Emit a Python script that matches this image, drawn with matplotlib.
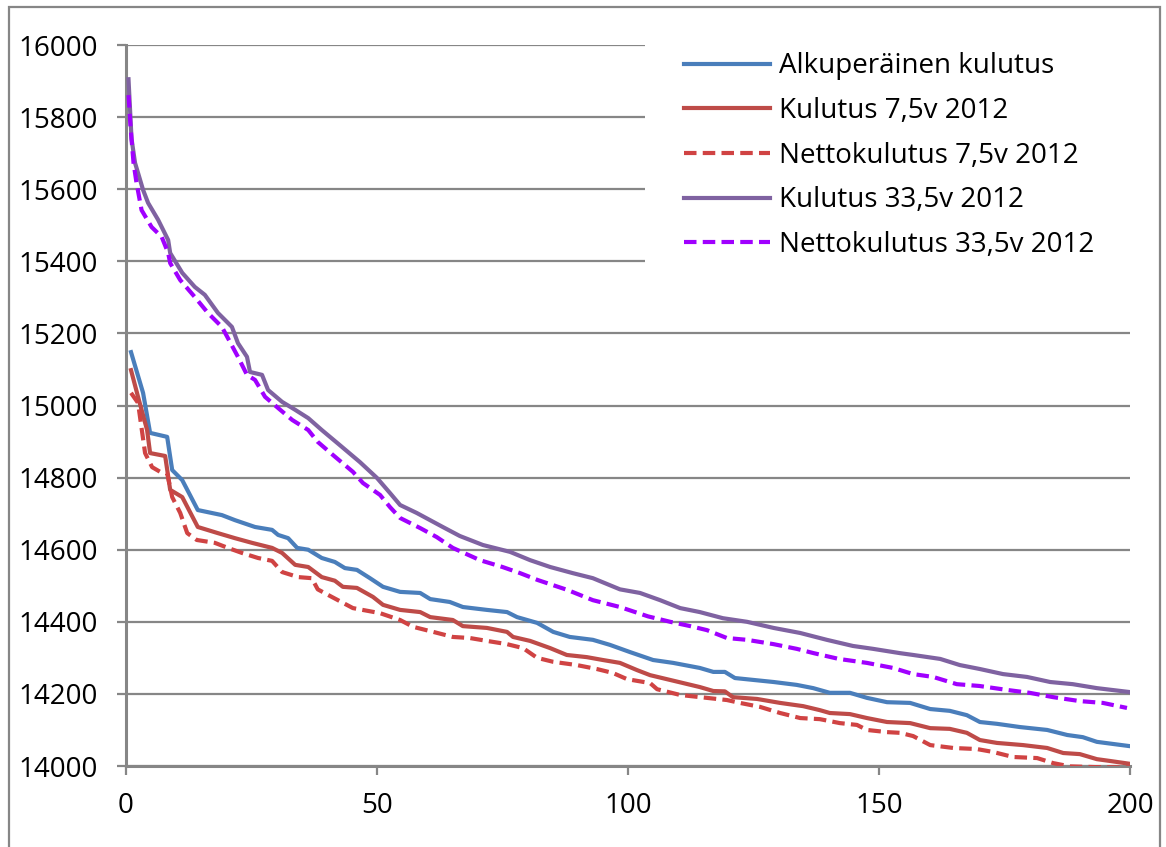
import matplotlib
matplotlib.use("Agg")
import matplotlib.pyplot as plt
from matplotlib.patches import Rectangle

# --- data ---
x_alku = [1, 3.4, 4.8, 8.2, 9.2, 11.2, 14.3, 19.1, 21.7, 25.7, 29.1, 30.3, 32.3, 34.1, 36.3, 39,
          41.6, 43.6, 46, 48.6, 51.2, 54.6, 58.6, 60.6, 64.5, 67.1, 71.9, 75.9, 77.9, 81.9, 85.1,
          88.4, 93, 96.4, 100.4, 105, 109, 114.3, 117, 119.3, 121.3, 129, 133.6, 136.9, 140.2,
          144.2, 147.6, 151.6, 156.2, 160.2, 164.1, 167.5, 170.1, 173.5, 178.1, 183.5, 187.5,
          190.6, 193.4, 200]
y_alku = [15148, 15035, 14924, 14913, 14821, 14793, 14710, 14696, 14682, 14663, 14655, 14641,
          14632, 14605, 14600, 14577, 14566, 14549, 14544, 14521, 14497, 14483, 14480, 14463,
          14455, 14441, 14433, 14427, 14413, 14397, 14372, 14358, 14350, 14336, 14316, 14294,
          14286, 14272, 14261, 14261, 14244, 14233, 14225, 14216, 14203, 14203, 14189, 14177,
          14175, 14158, 14153, 14141, 14122, 14117, 14108, 14100, 14086, 14080, 14067, 14055]

x_kul75 = [1, 2.4, 4.2, 4.8, 7.8, 8.8, 11.2, 14.3, 18.3, 21.7, 25.1, 29.1, 31.1, 33.7, 36.3, 39,
           41.6, 43.2, 46, 49.2, 51.2, 54.6, 58.6, 60.6, 65.1, 67.1, 71.9, 75.9, 77.1, 80.5, 84.5,
           87.8, 91.8, 95, 98.4, 101.8, 104.4, 111, 114.3, 117, 119.3, 120.9, 125.7, 130.3, 134.9,
           138.2, 140.2, 144.2, 147.6, 151.6, 156.2, 160.2, 164.1, 167.5, 170.1, 173.5, 178.7,
           183.5, 186.7, 190, 193.4, 196, 200]
y_kul75 = [15098, 15024, 14932, 14868, 14860, 14766, 14746, 14663, 14646, 14632, 14619, 14605,
           14591, 14558, 14552, 14524, 14514, 14497, 14494, 14469, 14447, 14433, 14427, 14413,
           14405, 14388, 14383, 14372, 14358, 14347, 14327, 14308, 14302, 14294, 14286, 14266,
           14252, 14230, 14219, 14208, 14207, 14191, 14186, 14175, 14166, 14155, 14147, 14144,
           14133, 14122, 14119, 14105, 14103, 14092, 14072, 14064, 14058, 14050, 14036, 14033,
           14019, 14014, 14006]

x_netto75 = [1, 2.4, 3.8, 5.2, 6.8, 8.2, 9.2, 10.8, 12.2, 14.1, 17.7, 20.3, 23.1, 26.3, 29.1, 31.1,
             34.3, 37, 38.2, 41, 45.2, 50.6, 54.6, 57.2, 61.2, 65.1, 68.5, 71.9, 75.9, 79.1, 81.9,
             85.1, 89.8, 93.8, 97, 99.8, 104.4, 105.8, 110.4, 115.7, 119.7, 122.3, 126.3, 130.3,
             134.3, 138.2, 142.2, 145.6, 147.6, 151.6, 154.2, 156.8, 160.2, 164.8, 169.5, 172.7,
             176.7, 181.5, 184.7, 188, 193, 200]
y_netto75 = [15035, 15007, 14868, 14829, 14816, 14812, 14746, 14702, 14646, 14627, 14619, 14605,
             14591, 14577, 14569, 14538, 14524, 14521, 14490, 14469, 14438, 14424, 14405, 14386,
             14372, 14358, 14355, 14347, 14338, 14327, 14300, 14289, 14280, 14269, 14258, 14241,
             14230, 14213, 14197, 14189, 14183, 14175, 14164, 14147, 14133, 14130, 14119, 14114,
             14100, 14094, 14092, 14083, 14058, 14050, 14047, 14039, 14025, 14022, 14008, 13999,
             13997, 13996]

x_kul335 = [0.5, 1.1, 1.8, 2.4, 3.4, 4.4, 6.4, 8.4, 8.8, 11.2, 13.7, 15.7, 18.3, 21.1, 22.3, 24.1,
            24.7, 27.1, 28.3, 31.1, 33.7, 36.3, 39, 42.6, 46.6, 50, 52.6, 54.6, 57.9, 63.1, 66.5,
            71.1, 76.5, 80.5, 84.5, 89, 93, 98.4, 102.4, 106.4, 110.4, 114.3, 118.9, 123.7, 129,
            134.3, 139.6, 144.8, 148.8, 154.2, 156.8, 162.2, 166.1, 170.1, 174.7, 179.5, 184.1,
            188.6, 193.4, 200]
y_kul335 = [15905, 15740, 15673, 15645, 15598, 15562, 15515, 15459, 15423, 15368, 15329, 15307,
            15257, 15218, 15173, 15135, 15093, 15085, 15043, 15010, 14988, 14965, 14932, 14890,
            14843, 14799, 14757, 14724, 14702, 14663, 14638, 14613, 14594, 14571, 14552, 14535,
            14521, 14490, 14480, 14460, 14438, 14427, 14410, 14400, 14383, 14369, 14350, 14333,
            14325, 14313, 14308, 14297, 14280, 14269, 14255, 14247, 14233, 14227, 14216, 14205]

x_netto335 = [0.5, 0.9, 1.5, 2.1, 3.1, 5.1, 7.1, 8.4, 8.8, 10.8, 13.7, 16.3, 19.1, 20.3, 22.3, 24.1,
              25.7, 27.7, 30.3, 33.1, 36.3, 38.2, 41.2, 45.2, 47.2, 50.6, 52.6, 54.6, 58.6, 61.9,
              65.1, 70.5, 75, 78.5, 82, 88, 93, 98.4, 104, 108.4, 112.4, 115.7, 119.7, 123.7, 129,
              133.6, 137, 142, 147.6, 152.8, 156.8, 160.8, 165.5, 170, 175.5, 180, 184.7, 190,
              194.6, 199.4]
y_netto335 = [15861, 15773, 15673, 15617, 15542, 15495, 15468, 15423, 15395, 15348, 15301, 15257,
              15218, 15187, 15135, 15085, 15071, 15024, 14993, 14960, 14932, 14899, 14863, 14816,
              14785, 14752, 14718, 14688, 14660, 14635, 14605, 14571, 14552, 14535, 14516, 14488,
              14460, 14441, 14415, 14400, 14388, 14377, 14355, 14350, 14338, 14325, 14313, 14297,
              14286, 14272, 14255, 14247, 14227, 14222, 14211, 14203, 14191, 14180, 14175, 14161]

labels = ["Alkuperäinen kulutus", "Kulutus 7,5v 2012", "Nettokulutus 7,5v 2012",
          "Kulutus 33,5v 2012", "Nettokulutus 33,5v 2012"]
x_ticks = [0, 50, 100, 150, 200]
y_ticks = [14000, 14200, 14400, 14600, 14800, 15000, 15200, 15400, 15600, 15800, 16000]

plt.rcParams['font.family'] = ['Open Sans', 'DejaVu Sans']

W, H = 1166, 847
fig = plt.figure(figsize=(W / 100, H / 100), dpi=100)
ax = fig.add_axes([126 / W, 1 - 766 / H, (1130 - 126) / W, (766 - 45) / H])

grid_c = '#868686'
lw = 3.0
dash = (3.0, 1.5)
kw = dict(lw=lw, solid_joinstyle='round', dash_joinstyle='round', zorder=3)
ax.plot(x_alku, y_alku, color='#4A7EBB', label=labels[0], **kw)
ax.plot(x_kul75, y_kul75, color='#BE4B48', label=labels[1], **kw)
ax.plot(x_netto75, y_netto75, color='#D04343', ls=(0, dash), label=labels[2], **kw)
ax.plot(x_kul335, y_kul335, color='#7F62A1', label=labels[3], **kw)
ax.plot(x_netto335, y_netto335, color='#A000FF', ls=(0, dash), label=labels[4], **kw)

ax.set_xlim(0, 200)
ax.set_ylim(14000, 16000)
ax.set_xticks(x_ticks)
ax.set_yticks(y_ticks)
ax.yaxis.grid(True, color=grid_c, lw=1.6)
ax.set_axisbelow(True)
for s in ['top', 'right']:
    ax.spines[s].set_visible(False)
for s in ['left', 'bottom']:
    ax.spines[s].set_color(grid_c)
    ax.spines[s].set_linewidth(2.2)
ax.tick_params(axis='both', colors=grid_c, width=1.6, length=6.5, labelsize=20,
               labelcolor='black')
ax.tick_params(axis='y', pad=14)
ax.tick_params(axis='x', pad=12)

# white area behind the legend hides the gridlines there
ax.add_patch(Rectangle((645 / W, 1 - 278 / H), (1135 - 645) / W, (278 - 28) / H,
                       transform=fig.transFigure, facecolor='white', edgecolor='none',
                       zorder=2, clip_on=False))

leg = ax.legend(loc='upper left', bbox_to_anchor=(676 / W, 1 - 44 / H), bbox_transform=fig.transFigure,
                fontsize=20, frameon=False, handlelength=3.1, handletextpad=0.3,
                labelspacing=0.6, borderpad=0.3, borderaxespad=0)

# outer chart frame
fig.patches.append(Rectangle((9 / W, -0.01), (1160 - 9) / W, 1.01 - 7 / H, transform=fig.transFigure,
                             fill=False, edgecolor=grid_c, lw=1.6))

fig.savefig('out.png', dpi=100)
